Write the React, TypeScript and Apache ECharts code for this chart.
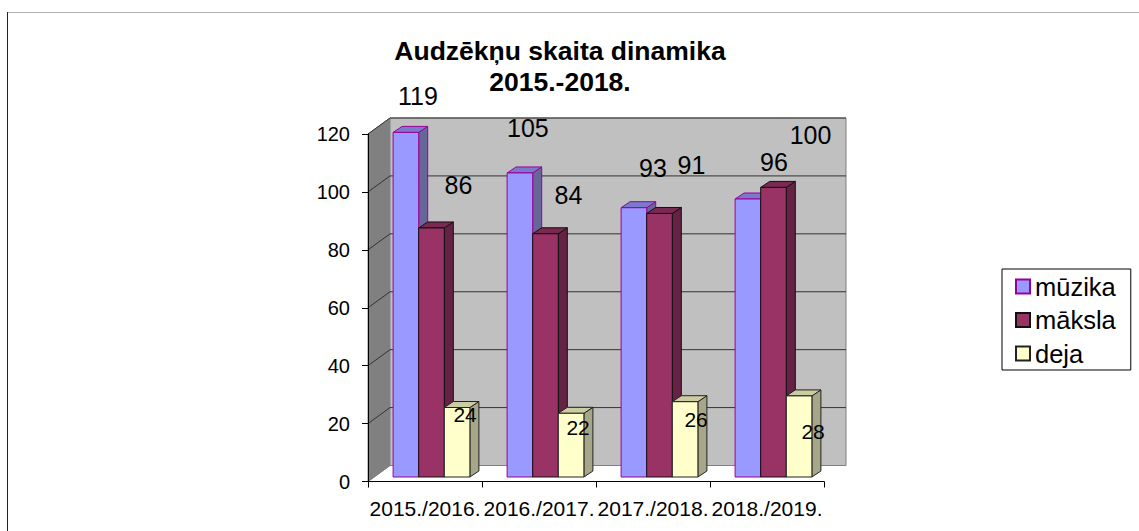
import React, { useEffect, useRef } from "react";
import * as echarts from "echarts";

const categories = ["2015./2016.", "2016./2017.", "2017./2018.", "2018./2019."];
const muzika = [119, 105, 93, 96];
const maksla = [86, 84, 91, 100];
const deja = [24, 22, 26, 28];
const yMin = 0;
const yMax = 120;
const yStep = 20;
const yTicks = [0, 20, 40, 60, 80, 100, 120];
const FONT = "'Liberation Sans', Arial, sans-serif";

// hand-placed label offsets of the source chart, relative to the top centre of each bar
const labelShift = [
  [[12, -36], [8, -45], [19, -40], [26, -37]],
  [[27, -43], [23, -39], [32, -48], [37, -52]],
  [[8, 7], [7, 14], [11, 18], [14, 36]],
];

const palette = [
  { name: "mūzika", front: "#9999FF", side: "#666699", top: "#7A7ACC", edge: "#990099", values: muzika },
  { name: "māksla", front: "#993366", side: "#662244", top: "#7A2952", edge: "#111111", values: maksla },
  { name: "deja", front: "#FFFFCC", side: "#A6A688", top: "#CCCCA3", edge: "#222222", values: deja },
];

const WALL_DX = 22;
const WALL_DY = -16;
const BAR_W = 25.6;
const DEPTH_DX = 9;
const DEPTH_DY = -6;
const BASE_DX = 6.5;
const BASE_DY = -4.5;

function wallItem(params: any, api: any) {
  const [xL, yBottom] = api.coord([0, yMin]);
  const band = api.size([1, 0])[0];
  const left = xL - band / 2;
  const right = left + band * categories.length;
  const yTop = api.coord([0, yMax])[1];
  const children: any[] = [
    { type: "polygon", shape: { points: [[left, yTop], [left + WALL_DX, yTop + WALL_DY], [left + WALL_DX, yBottom + WALL_DY], [left, yBottom]] }, style: { fill: "#808080", stroke: "#808080", lineWidth: 1 } },
    { type: "rect", shape: { x: left + WALL_DX, y: yTop + WALL_DY, width: right - left, height: yBottom - yTop }, style: { fill: "#C0C0C0", stroke: "#808080", lineWidth: 1 } },
  ];
  yTicks.forEach((t) => {
    const y = api.coord([0, t])[1];
    children.push({ type: "polyline", shape: { points: [[left, y], [left + WALL_DX, y + WALL_DY], [right + WALL_DX, y + WALL_DY]] }, style: { fill: "none", stroke: t === 0 ? "#808080" : "#333333", lineWidth: 1 } });
  });
  return { type: "group", children };
}

function barRenderer(idx: number) {
  const p = palette[idx];
  return (params: any, api: any) => {
    const cat = api.value(0);
    const val = api.value(1);
    const [cx, y1] = api.coord([cat, val]);
    const y0 = api.coord([cat, 0])[1];
    const x = cx - (BAR_W * 3) / 2 + BASE_DX + idx * BAR_W;
    const bottom = y0 + BASE_DY;
    const top = y1 + BASE_DY;
    const r = x + BAR_W;
    const edge = { stroke: p.edge, lineWidth: 1 };
    const [ox, oy] = labelShift[idx][params.dataIndex];
    return {
      type: "group",
      children: [
        { type: "polygon", shape: { points: [[r, top], [r + DEPTH_DX, top + DEPTH_DY], [r + DEPTH_DX, bottom + DEPTH_DY], [r, bottom]] }, style: { fill: p.side, ...edge } },
        { type: "polygon", shape: { points: [[x, top], [x + DEPTH_DX, top + DEPTH_DY], [r + DEPTH_DX, top + DEPTH_DY], [r, top]] }, style: { fill: p.top, ...edge } },
        { type: "rect", shape: { x, y: top, width: BAR_W, height: bottom - top }, style: { fill: p.front, ...edge } },
        { type: "text", x: x + BAR_W / 2 + ox, y: top + oy, z2: 50, style: { text: String(val), fill: "#000000", fontSize: idx === 2 ? 21 : 25, fontFamily: FONT, align: "center", verticalAlign: "middle" } },
      ],
    };
  };
}

export default function App() {
  const ref = useRef<HTMLDivElement>(null);
  useEffect(() => {
    document.body.style.margin = "0";
    const chart = echarts.init(ref.current!, undefined, { renderer: "svg" });
    chart.setOption({
      animation: false,
      backgroundColor: "#FFFFFF",
      title: {
        text: "Audzēkņu skaita dinamika\n2015.-2018.",
        left: 555,
        top: 30,
        textAlign: "center",
        textStyle: { fontFamily: FONT, fontSize: 26.5, fontWeight: "bold", color: "#000000", lineHeight: 31 },
      },
      legend: {
        orient: "vertical",
        left: 1002,
        top: 269,
        padding: [4.5, 15, 3.5, 13],
        backgroundColor: "#FFFFFF",
        borderColor: "#000000",
        borderWidth: 1,
        itemWidth: 14,
        itemHeight: 14,
        itemGap: 7.5,
        selectedMode: false,
        icon: "rect",
        textStyle: { fontFamily: FONT, fontSize: 25.5, color: "#000000" },
        data: palette.map((p) => ({
          name: p.name,
          icon: "rect",
          itemStyle: { color: p.front, borderColor: p.edge, borderWidth: 2 },
        })),
      },
      grid: { left: 368, right: 1139 - 824, top: 134, bottom: 531 - 481.5, containLabel: false },
      xAxis: {
        type: "category",
        data: categories,
        z: 5,
        axisLine: { show: true, lineStyle: { color: "#000000", width: 1 } },
        axisTick: { show: true, alignWithLabel: false, length: 6, lineStyle: { color: "#000000" } },
        axisLabel: { interval: 0, margin: 16, hideOverlap: false, color: "#000000", fontFamily: FONT, fontSize: 21 },
        splitLine: { show: false },
      },
      yAxis: {
        type: "value",
        min: yMin,
        max: yMax,
        interval: yStep,
        z: 5,
        axisLine: { show: true, lineStyle: { color: "#000000", width: 1 } },
        axisTick: { show: true, length: 6, lineStyle: { color: "#000000" } },
        axisLabel: { margin: 18, color: "#000000", fontFamily: FONT, fontSize: 20 },
        splitLine: { show: false },
      },
      series: [
        {
          type: "custom",
          name: "walls",
          z: 1,
          silent: true,
          clip: false,
          renderItem: wallItem,
          data: [[0, 0]],
          encode: { x: 0, y: 1 },
        },
        ...palette.map((p, i) => ({
          type: "custom",
          name: p.name,
          z: 2 + i,
          clip: false,
          itemStyle: { color: p.front, borderColor: p.edge },
          renderItem: barRenderer(i),
          data: p.values.map((v, c) => [c, v]),
          encode: { x: 0, y: 1 },
        })),
      ],
      graphic: [
        { type: "rect", silent: true, shape: { x: 7, y: 12, width: 1, height: 519 }, style: { fill: "#222222" } },
        { type: "rect", silent: true, shape: { x: 8, y: 12, width: 1131, height: 1 }, style: { fill: "#B0B0B0" } },
      ],
    });
    return () => chart.dispose();
  }, []);
  return <div ref={ref} style={{ width: 1139, height: 531 }} />;
}
